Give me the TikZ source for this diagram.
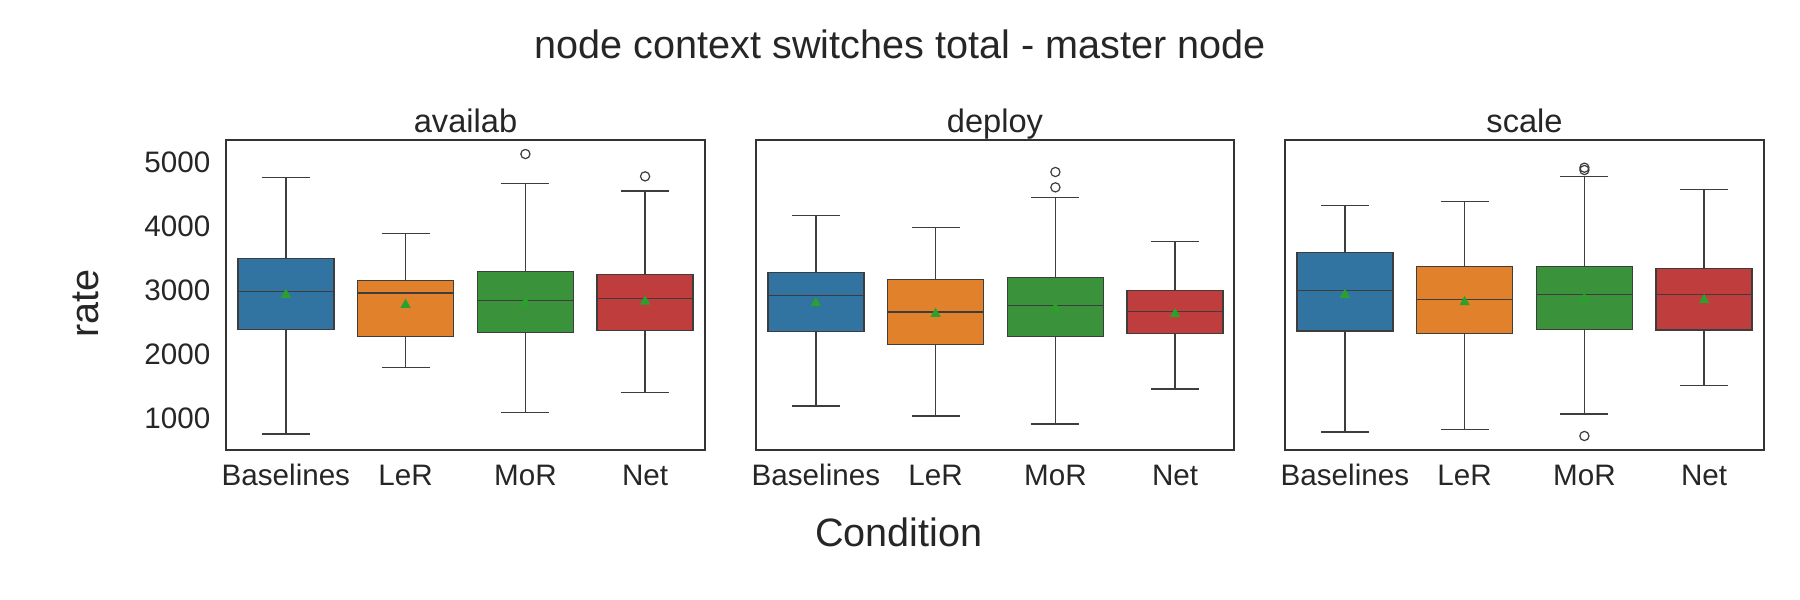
\documentclass[tikz,border=0pt]{standalone}
\usepackage{fontspec}
\setmainfont{Liberation Sans}
\definecolor{cB}{HTML}{3274A1}
\definecolor{cO}{HTML}{E1812C}
\definecolor{cG}{HTML}{3A923A}
\definecolor{cR}{HTML}{C03D3E}
\definecolor{lineC}{HTML}{3D3D3D}
\definecolor{frameC}{HTML}{333333}
\definecolor{txtC}{HTML}{262626}
\definecolor{meanC}{HTML}{2CA02C}
\newcommand\bxp[8]{%
  \draw[wsk] (#1,#2) -- (#1,#3) (#1,#5) -- (#1,#6);
  \draw[wsk] (#1-24,#2) -- (#1+24,#2) (#1-24,#6) -- (#1+24,#6);
  \filldraw[boxst, fill=#8] (#1-48,#3) rectangle (#1+48,#5);
  \draw[boxst] (#1-48,#4) -- (#1+48,#4);
  \fill[meanC] (#1,#7) ++(0,2.3pt) -- ++(-2.6pt,-4.6pt) -- ++(5.2pt,0) -- cycle;
}
\begin{document}
\begin{tikzpicture}[x=0.5pt,y=-0.5pt,
  wsk/.style={draw=lineC, line width=0.75pt},
  boxst/.style={draw=lineC, line width=0.75pt},
  frame/.style={draw=frameC, line width=1pt},
  outl/.style={circle, draw=lineC, line width=0.6pt, minimum size=4.6pt, inner sep=0pt},
  ytick/.style={anchor=east, inner sep=0pt, text=txtC, font=\fontsize{14.8}{17}\selectfont},
  xtick/.style={anchor=base, inner sep=0pt, text=txtC, font=\fontsize{14.8}{17}\selectfont},
  ptitle/.style={anchor=base, inner sep=0pt, text=txtC, font=\fontsize{16.3}{19}\selectfont},
  bigtxt/.style={anchor=base, inner sep=0pt, text=txtC, font=\fontsize{19.8}{23}\selectfont}]
\useasboundingbox (0,0) rectangle (1800,600);
\fill[white] (0,0) rectangle (1800,600);
% data scope: x in px, y in data units
\begin{scope}[shift={(0,482.7)}, y=0.032pt]
  % availab
  \bxp{285.9}{761}{2397}{2990}{3500}{4772}{2960}{cB}
  \bxp{405.6}{1803}{2287}{2964}{3162}{3897}{2803}{cO}
  \bxp{525.4}{1100}{2350}{2850}{3303}{4678}{2840}{cG}
  \bxp{645.1}{1412}{2381}{2880}{3256}{4558}{2855}{cR}
  \node[outl] (o1) at (525.4,5136) {};
  \node[outl] (o2) at (645.1,4787) {};
  % deploy
  \bxp{815.9}{1198}{2365}{2928}{3287}{4178}{2830}{cB}
  \bxp{935.6}{1042}{2162}{2667}{3178}{3990}{2662}{cO}
  \bxp{1055.4}{917}{2287}{2771}{3209}{4459}{2750}{cG}
  \bxp{1175.1}{1464}{2334}{2678}{3006}{3771}{2660}{cR}
  \node[outl] (o3) at (1055.4,4855) {};
  \node[outl] (o4) at (1055.4,4615) {};
  % scale
  \bxp{1344.9}{792}{2370}{3006}{3600}{4334}{2960}{cB}
  \bxp{1464.6}{834}{2334}{2865}{3381}{4397}{2846}{cO}
  \bxp{1584.4}{1073}{2397}{2944}{3381}{4787}{2898}{cG}
  \bxp{1704.1}{1522}{2386}{2944}{3344}{4584}{2880}{cR}
  \node[outl] (o5) at (1584.4,4922) {};
  \node[outl] (o6) at (1584.4,4886) {};
  \node[outl] (o7) at (1584.4,730) {};
  % y ticks
  \node[ytick] (y1) at (210.7,1000) {1000};
  \node[ytick] (y2) at (210.7,2000) {2000};
  \node[ytick] (y3) at (210.7,3000) {3000};
  \node[ytick] (y4) at (210.7,4000) {4000};
  \node[ytick] (y5) at (210.7,5000) {5000};
\end{scope}
% frames
\draw[frame] (226,140) rectangle (705,450);
\draw[frame] (756,140) rectangle (1234,450);
\draw[frame] (1285,140) rectangle (1764,450);
% panel titles
\node[ptitle] (t1) at (465.5,132.3) {availab};
\node[ptitle] (t2) at (995,132.3) {deploy};
\node[ptitle] (t3) at (1524.5,132.3) {scale};
% x tick labels
\foreach \xs/\p in {226/a,756/d,1285/s}{
  \node[xtick] (b\p) at (\xs+59.9,485.7) {Baselines};
  \node[xtick] (l\p) at (\xs+179.6,485.7) {LeR};
  \node[xtick] (m\p) at (\xs+299.4,485.7) {MoR};
  \node[xtick] (n\p) at (\xs+419.1,485.7) {Net};
}
% labels
\node[bigtxt] (sup) at (900,58.3) {node context switches total - master node};
\node[bigtxt] (xl) at (899,546.7) {Condition};
\node[bigtxt, rotate=90] (yl) at (98.3,303.4) {rate};
\end{tikzpicture}
\end{document}
